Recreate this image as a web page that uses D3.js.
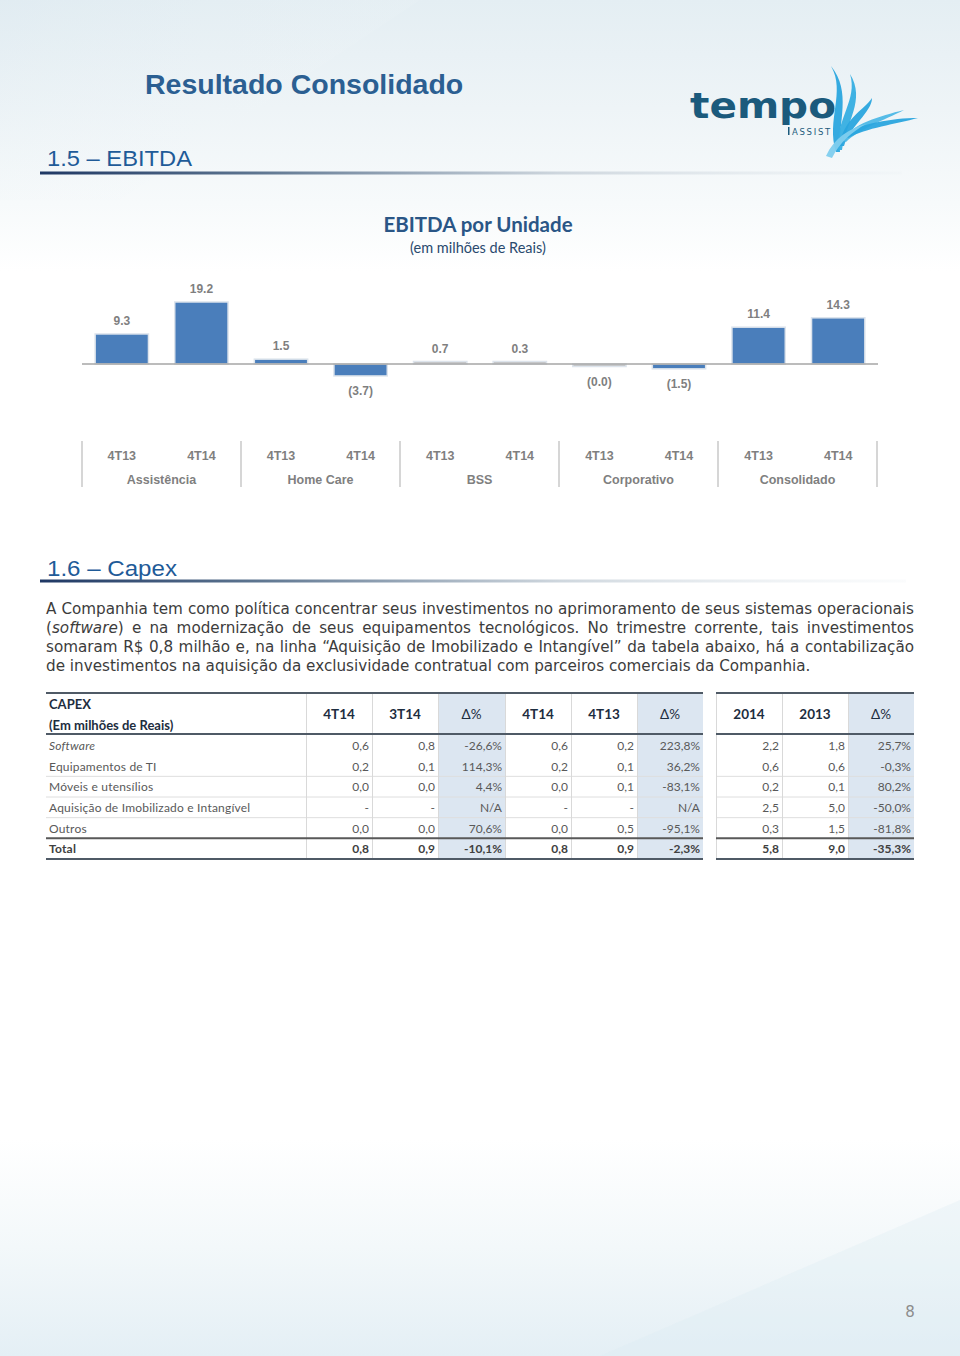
<!DOCTYPE html>
<html><head><meta charset="utf-8">
<script src="https://cdn.jsdelivr.net/npm/d3@7"></script>
<style>
html,body{margin:0;padding:0;background:#fff;}
svg{display:block;}
</style></head>
<body>
<svg id="page" width="960" height="1356"></svg>
<script>
// ---------------- DATA ----------------
const units = ["Assistência","Home Care","BSS","Corporativo","Consolidado"];
const periods = ["4T13","4T14"];
const ebitda = [9.3, 19.2, 1.5, -3.7, 0.7, 0.3, -0.04, -1.5, 11.4, 14.3];

const capexRows = ["Software","Equipamentos de TI","Móveis e utensílios","Aquisição de Imobilizado e Intangível","Outros","Total"];
const capexHeaders = ["4T14","3T14","Δ%","4T14","4T13","Δ%","2014","2013","Δ%"];
const c4T14 = [0.6, 0.2, 0.0, null, 0.0, 0.8];
const c3T14 = [0.8, 0.1, 0.0, null, 0.0, 0.9];
const dQoQ  = [-26.6, 114.3, 4.4, null, 70.6, -10.1];
const c4T13 = [0.2, 0.1, 0.1, null, 0.5, 0.9];
const dYoY  = [223.8, 36.2, -83.1, null, -95.1, -2.3];
const y2014 = [2.2, 0.6, 0.2, 2.5, 0.3, 5.8];
const y2013 = [1.8, 0.6, 0.1, 5.0, 1.5, 9.0];
const dYear = [25.7, -0.3, 80.2, -50.0, -81.8, -35.3];

const paragraph = [
  "A Companhia tem como política concentrar seus investimentos no aprimoramento de seus sistemas operacionais",
  "(_software_) e na modernização de seus equipamentos tecnológicos. No trimestre corrente, tais investimentos",
  "somaram R$ 0,8 milhão e, na linha “Aquisição de Imobilizado e Intangível” da tabela abaixo, há a contabilização",
  "de investimentos na aquisição da exclusividade contratual com parceiros comerciais da Companhia."
];

// ---------------- PAGE ----------------
const svg = d3.select("#page");
const defs = svg.append("defs");

const bg = defs.append("linearGradient").attr("id","bg").attr("x1",0).attr("y1",0).attr("x2",0).attr("y2",1);
[[0,"#e4eef3"],[0.08,"#eef4f7"],[0.15,"#f7fafb"],[0.2,"#ffffff"],[0.84,"#ffffff"],[0.92,"#f3f8fa"],[1,"#e4eff5"]]
  .forEach(([o,c])=>bg.append("stop").attr("offset",o).attr("stop-color",c));
svg.append("rect").attr("width",960).attr("height",1356).attr("fill","url(#bg)");

const streak = defs.append("linearGradient").attr("id","streak").attr("x1",0).attr("y1",0).attr("x2",1).attr("y2",1);
streak.append("stop").attr("offset",0).attr("stop-color","#dbe8ef").attr("stop-opacity",0.6);
streak.append("stop").attr("offset",1).attr("stop-color","#ffffff").attr("stop-opacity",0);
svg.append("path").attr("d","M0,0 L420,0 L120,200 L0,200 Z").attr("fill","url(#streak)").attr("opacity",0.6);
svg.append("path").attr("d","M960,1356 L960,1200 L600,1356 Z").attr("fill","#dcebf3").attr("opacity",0.3);

const lineGrad = defs.append("linearGradient").attr("id","secline").attr("x1",0).attr("y1",0).attr("x2",1).attr("y2",0);
[[0,"#1f3864",1],[0.25,"#5d7590",1],[0.6,"#c9d2da",0.9],[1,"#e8eef2",0.2]]
  .forEach(([o,c,a])=>lineGrad.append("stop").attr("offset",o).attr("stop-color",c).attr("stop-opacity",a));

// Header title
svg.append("text").attr("x",145).attr("y",94)
  .attr("font-family","Liberation Sans, Arial, sans-serif").attr("font-weight","bold")
  .attr("font-size",28.5).attr("fill","#2b5f92").text("Resultado Consolidado");

function section(label, y, w){
  svg.append("text").attr("x",47).attr("y",y)
    .attr("font-family","'Liberation Sans Narrow', 'Liberation Sans', Arial, sans-serif")
    .attr("font-size",22.5).attr("fill","#1f5b98")
    .attr("textLength",w).attr("lengthAdjust","spacingAndGlyphs")
    .text(label);
}
section("1.5 – EBITDA", 166, 145);
svg.append("rect").attr("x",40).attr("y",171.5).attr("width",862).attr("height",3).attr("fill","url(#secline)");
section("1.6 – Capex", 576, 130);
svg.append("rect").attr("x",40).attr("y",579.5).attr("width",866).attr("height",3).attr("fill","url(#secline)");

// Logo
const logo = svg.append("g");
logo.append("text").attr("x",690).attr("y",118)
  .attr("font-family","'DejaVu Sans', Verdana, sans-serif").attr("font-weight","bold")
  .attr("font-size",36).attr("fill","#1b5a7c")
  .attr("textLength",146).attr("lengthAdjust","spacingAndGlyphs").text("tempo");
logo.append("rect").attr("x",788).attr("y",127).attr("width",1.5).attr("height",8).attr("fill","#1b5a7c");
logo.append("text").attr("x",792).attr("y",135)
  .attr("font-family","'DejaVu Sans', sans-serif").attr("font-size",8.5).attr("fill","#1b5a7c")
  .attr("letter-spacing",1.7).text("ASSIST");
const blades = [
  {d:"M836,152 C826,120 846,92 831,66 C852,92 838,122 840,152 Z", c:"#2aa5de"},
  {d:"M838,150 C836,118 858,100 850,74 C866,100 846,122 842,150 Z", c:"#36aee2"},
  {d:"M840,146 C842,120 864,110 872,98 C872,112 850,126 844,146 Z", c:"#2aa5de"},
  {d:"M842,140 C852,124 880,116 904,110 C884,120 858,130 846,142 Z", c:"#4db8e6"},
  {d:"M844,134 C860,124 892,118 918,118 C896,124 866,128 848,138 Z", c:"#2aa5de"},
  {d:"M826,156 C834,138 850,128 866,124 C852,132 840,142 832,158 Z", c:"#7fcdee"}
];
logo.selectAll("path.blade").data(blades).join("path").attr("class","blade")
  .attr("d",d=>d.d).attr("fill",d=>d.c).attr("opacity",0.95);

// ---------------- CHART ----------------
svg.append("text").attr("x",478).attr("y",232).attr("text-anchor","middle")
  .attr("font-family","Lato, 'Open Sans', sans-serif").attr("font-weight","bold")
  .attr("font-size",20.5).attr("fill","#2a5686").text("EBITDA por Unidade");
svg.append("text").attr("x",478).attr("y",253).attr("text-anchor","middle")
  .attr("font-family","Lato, 'Open Sans', sans-serif")
  .attr("font-size",14.5).attr("fill","#2a4a6e").text("(em milhões de Reais)");

const barData = ebitda.map((v,i)=>({v, unit:units[Math.floor(i/2)], period:periods[i%2], key:i}));
const x = d3.scaleBand().domain(barData.map(d=>d.key)).range([82,878]).paddingInner(0.33).paddingOuter(0.165);
const y = d3.scaleLinear().domain([-5,20]).range([364+5*3.23, 364-20*3.23]);
const y0 = y(0);
const fmt1 = d3.format(".1f");
const lab = v => v<0 ? "("+fmt1(Math.abs(v))+")" : fmt1(v);

const chart = svg.append("g");
chart.selectAll("rect.bar").data(barData).join("rect").attr("class","bar")
  .attr("x",d=>x(d.key)).attr("width",x.bandwidth())
  .attr("y",d=>d.v>=0 ? Math.min(y(d.v), y0-2.5) : y0)
  .attr("height",d=>Math.max(Math.abs(y(d.v)-y0),2.5))
  .attr("fill",d=>Math.abs(d.v)<1 ? "#bfbfbf" : "#4a7ebb")
  .attr("stroke","#dde4ec").attr("stroke-width",1.5);

chart.append("line").attr("x1",82).attr("x2",878).attr("y1",y0).attr("y2",y0)
  .attr("stroke","#a6a6a6").attr("stroke-width",1.5);

chart.selectAll("text.val").data(barData).join("text").attr("class","val")
  .attr("x",d=>x(d.key)+x.bandwidth()/2)
  .attr("y",d=>d.v>=0 ? Math.min(y(d.v),y0-2.5)-9 : Math.max(y(d.v),y0+2.5)+19)
  .attr("text-anchor","middle")
  .attr("font-family","Liberation Sans, Arial, sans-serif").attr("font-weight","bold")
  .attr("font-size",12).attr("fill","#7f7f7f").text(d=>lab(d.v));

// category axis
const groupX = d3.scaleBand().domain(units).range([82,877]);
const axis = svg.append("g");
axis.selectAll("line.sep").data(d3.range(units.length+1)).join("line").attr("class","sep")
  .attr("x1",i=>82+i*groupX.bandwidth()).attr("x2",i=>82+i*groupX.bandwidth())
  .attr("y1",441).attr("y2",487).attr("stroke","#c8c8c8").attr("stroke-width",1.5);
axis.selectAll("text.per").data(barData).join("text").attr("class","per")
  .attr("x",d=>x(d.key)+x.bandwidth()/2).attr("y",460).attr("text-anchor","middle")
  .attr("font-family","Liberation Sans, Arial, sans-serif").attr("font-weight","bold")
  .attr("font-size",12.5).attr("fill","#7f7f7f").text(d=>d.period);
axis.selectAll("text.unit").data(units).join("text").attr("class","unit")
  .attr("x",d=>groupX(d)+groupX.bandwidth()/2).attr("y",484).attr("text-anchor","middle")
  .attr("font-family","Liberation Sans, Arial, sans-serif").attr("font-weight","bold")
  .attr("font-size",12.5).attr("fill","#7f7f7f").text(d=>d);

// ---------------- PARAGRAPH ----------------
const pFont = "'DejaVu Sans', Verdana, sans-serif";
const pg = svg.append("g").attr("font-family",pFont).attr("font-size",15.2).attr("fill","#3c3c3c");
function addWord(g, w, xx, yy){
  const t = g.append("text").attr("x",xx).attr("y",yy);
  const parts = w.split("_");
  parts.forEach((p,i)=>{ if(p) t.append("tspan").attr("font-style", i%2 ? "italic":"normal").text(p); });
  return t;
}
const spaceW = (()=>{const t=pg.append("text").text("a a");const a=t.node().getComputedTextLength();t.text("aa");const b=t.node().getComputedTextLength();t.remove();return a-b;})();
paragraph.forEach((line,li)=>{
  const yy = 614 + li*19;
  const words = line.split(" ");
  const last = li === paragraph.length-1;
  const nodes = words.map(w=>addWord(pg,w,0,yy));
  const widths = nodes.map(n=>n.node().getComputedTextLength());
  const sum = d3.sum(widths);
  const gap = last ? spaceW : (868 - sum)/(words.length-1);
  let cx = 46;
  nodes.forEach((n,i)=>{ n.attr("x",cx); cx += widths[i] + gap; });
});

// ---------------- TABLE ----------------
const tFont = "Lato, 'Open Sans', sans-serif";
const cols = [
  {h:capexHeaders[0], v:c4T14, pct:false, x0:306, x1:372},
  {h:capexHeaders[1], v:c3T14, pct:false, x0:372, x1:438},
  {h:capexHeaders[2], v:dQoQ,  pct:true,  x0:438, x1:505},
  {h:capexHeaders[3], v:c4T14, pct:false, x0:505, x1:571},
  {h:capexHeaders[4], v:c4T13, pct:false, x0:571, x1:637},
  {h:capexHeaders[5], v:dYoY,  pct:true,  x0:637, x1:703},
  {h:capexHeaders[6], v:y2014, pct:false, x0:716, x1:782},
  {h:capexHeaders[7], v:y2013, pct:false, x0:782, x1:848},
  {h:capexHeaders[8], v:dYear, pct:true,  x0:848, x1:914}
];
const loc = d3.formatLocale({decimal:",", thousands:".", grouping:[3], currency:["R$",""], minus:"-"});
const f1 = loc.format(".1f");
const cell = (v,pct) => v==null ? (pct ? "N/A" : "-") : (pct ? f1(v)+"%" : f1(v));

const tTop = 693, hBot = 735, rowH = (859-735)/6;
const tbl = svg.append("g").attr("font-family",tFont);
const rowY = d3.scaleBand().domain(capexRows).range([hBot, hBot+rowH*6]);

tbl.append("rect").attr("x",46).attr("y",tTop).attr("width",657).attr("height",166).attr("fill","#ffffff");
tbl.append("rect").attr("x",716).attr("y",tTop).attr("width",198).attr("height",166).attr("fill","#ffffff");
tbl.selectAll("rect.blue").data(cols.filter(c=>c.pct)).join("rect").attr("class","blue")
  .attr("x",c=>c.x0).attr("y",tTop).attr("width",c=>c.x1-c.x0).attr("height",166).attr("fill","#dce6f1");

const segs = [[46,703],[716,914]];
capexRows.slice(1,5).forEach(r=>{
  segs.forEach(([a,b])=>tbl.append("line").attr("x1",a).attr("x2",b)
    .attr("y1",rowY(r)+rowY.bandwidth()).attr("y2",rowY(r)+rowY.bandwidth())
    .attr("stroke","#dedede").attr("stroke-width",1));
});
cols.forEach(c=>{
  tbl.append("line").attr("x1",c.x0+0.5).attr("x2",c.x0+0.5).attr("y1",tTop).attr("y2",859)
    .attr("stroke","#d9d9d9").attr("stroke-width",1);
});
[tTop, hBot-1, rowY("Total"), 859].forEach((yy,i)=>{
  segs.forEach(([a,b])=>tbl.append("line").attr("x1",a).attr("x2",b).attr("y1",yy).attr("y2",yy)
    .attr("stroke", i===2 ? "#595959" : "#4f5a66").attr("stroke-width",2));
});

tbl.append("text").attr("x",49).attr("y",709).attr("font-weight","bold").attr("font-size",13)
  .attr("fill","#1d2d40").text("CAPEX");
tbl.append("text").attr("x",49).attr("y",730).attr("font-weight","bold").attr("font-size",13)
  .attr("fill","#1d2d40").text("(Em milhões de Reais)");
tbl.selectAll("text.hdr").data(cols).join("text").attr("class","hdr")
  .attr("x",c=>(c.x0+c.x1)/2).attr("y",719).attr("text-anchor","middle")
  .attr("font-weight",c=>c.pct?"normal":"bold").attr("font-size",13.5).attr("fill","#1d2d40")
  .text(c=>c.h);

tbl.selectAll("text.rl").data(capexRows).join("text").attr("class","rl")
  .attr("x",49).attr("y",r=>rowY(r)+rowY.bandwidth()/2+4.5)
  .attr("font-size",12).attr("fill",r=>r==="Total"?"#404040":"#595959")
  .attr("font-weight",r=>r==="Total"?"bold":"normal")
  .attr("font-style",r=>r==="Software"?"italic":"normal")
  .attr("letter-spacing",0.2)
  .text(r=>r);

cols.forEach(c=>{
  tbl.selectAll(null).data(capexRows).join("text")
    .attr("x",c.x1-3).attr("y",r=>rowY(r)+rowY.bandwidth()/2+4.5).attr("text-anchor","end")
    .attr("font-size",12).attr("fill",r=>r==="Total"?"#404040":"#595959")
    .attr("font-weight",r=>r==="Total"?"bold":"normal")
    .text((r,i)=>cell(c.v[i], c.pct));
});

svg.append("text").attr("x",910).attr("y",1317).attr("text-anchor","middle")
  .attr("font-family","'DejaVu Sans', sans-serif").attr("font-size",15).attr("fill","#8c8c8c").text("8");
</script>
</body></html>
